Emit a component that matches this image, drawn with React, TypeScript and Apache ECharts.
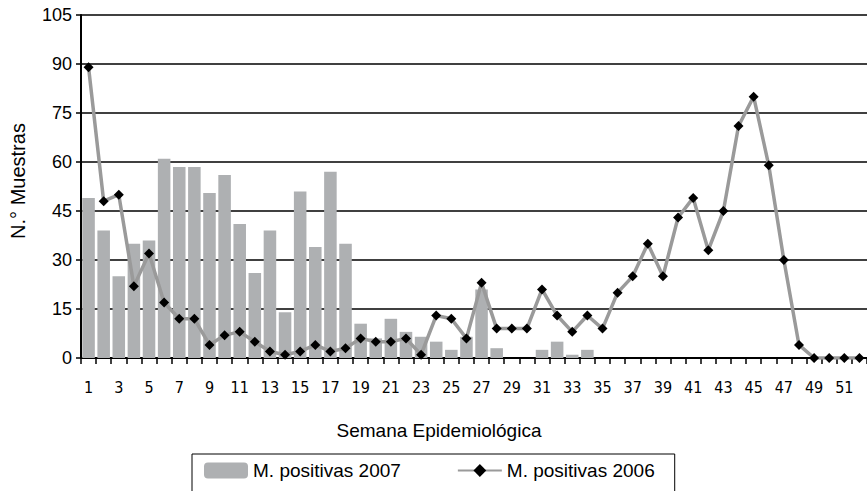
import React, { useEffect, useRef } from "react";
import * as echarts from "echarts";

const weeks: string[] = Array.from({ length: 52 }, (_, i) => String(i + 1));

const positivas2007: (number | null)[] = [
  49, 39, 25, 35, 36, 61, 58.5, 58.5, 50.5, 56,
  41, 26, 39, 14, 51, 34, 57, 35, 10.5, 6,
  12, 8, 6.5, 5, 2.5, 6.5, 21, 3, null, null,
  2.5, 5, 1, 2.5, null, null, null, null, null, null,
  null, null, null, null, null, null, null, null, null, null,
  null, null,
];

const positivas2006: number[] = [
  89, 48, 50, 22, 32, 17, 12, 12, 4, 7,
  8, 5, 2, 1, 2, 4, 2, 3, 6, 5,
  5, 6, 1, 13, 12, 6, 23, 9, 9, 9,
  21, 13, 8, 13, 9, 20, 25, 35, 25, 43,
  49, 33, 45, 71, 80, 59, 30, 4, 0, 0,
  0, 0,
];

const yTicks = { min: 0, max: 105, interval: 15 };

const SANS = "'Liberation Sans', Arial, Helvetica, sans-serif";
const NARROW = "'Liberation Sans Narrow', 'DejaVu Sans Condensed', 'Liberation Sans', sans-serif";

export default function App() {
  const ref = useRef<HTMLDivElement>(null);

  useEffect(() => {
    if (!ref.current) return;
    const chart = echarts.init(ref.current, undefined, { renderer: "svg" });
    chart.setOption({
      animation: false,
      backgroundColor: "#ffffff",
      textStyle: { fontFamily: SANS },
      grid: { left: 71, top: 15, width: 798, bottom: 133, containLabel: false },
      legend: {
        left: 192,
        top: 454,
        padding: [7, 20, 20, 12],
        borderColor: "#000",
        borderWidth: 1,
        itemGap: 56,
        itemWidth: 44,
        itemHeight: 16,
        textStyle: { fontFamily: SANS, fontSize: 19, color: "#000" },
        data: ["M. positivas 2007", "M. positivas 2006"],
      },
      xAxis: {
        type: "category",
        data: weeks,
        boundaryGap: true,
        name: "Semana Epidemiológica",
        nameLocation: "middle",
        nameGap: 63,
        nameTextStyle: {
          fontFamily: SANS,
          fontSize: 19,
          color: "#000",
          padding: [0, 70, 0, 0],
        },
        axisLine: { show: true, lineStyle: { color: "#000", width: 2 } },
        axisTick: {
          show: true,
          interval: 0,
          alignWithLabel: false,
          length: 6,
          lineStyle: { color: "#000", width: 1.5 },
        },
        axisLabel: {
          interval: 1,
          margin: 21,
          fontFamily: NARROW,
          fontSize: 16,
          color: "#000",
        },
        splitLine: { show: false },
      },
      yAxis: {
        type: "value",
        min: yTicks.min,
        max: yTicks.max,
        interval: yTicks.interval,
        name: "N.° Muestras",
        nameLocation: "middle",
        nameGap: 53,
        nameTextStyle: { fontFamily: SANS, fontSize: 20, color: "#000", padding: [0, 0, 0, 11] },
        axisLine: { show: true, lineStyle: { color: "#000", width: 2 } },
        axisTick: { show: true, length: 5, lineStyle: { color: "#000", width: 1.5 } },
        axisLabel: { margin: 9, fontFamily: SANS, fontSize: 18, color: "#000" },
        splitLine: { show: true, lineStyle: { color: "#000", width: 1.5 } },
      },
      series: [
        {
          name: "M. positivas 2007",
          type: "bar",
          data: positivas2007,
          barCategoryGap: "17%",
          itemStyle: { color: "#aeb0b2" },
          z: 2,
        },
        {
          name: "M. positivas 2006",
          type: "line",
          data: positivas2006,
          symbol: "diamond",
          symbolSize: 10,
          showAllSymbol: true,
          lineStyle: { color: "#9a9a9a", width: 3.5 },
          itemStyle: { color: "#000" },
          z: 3,
        },
      ],
    });
    return () => chart.dispose();
  }, []);

  return (
    <div
      ref={ref}
      style={{ position: "absolute", left: 0, top: 0, width: 867, height: 491 }}
    />
  );
}
